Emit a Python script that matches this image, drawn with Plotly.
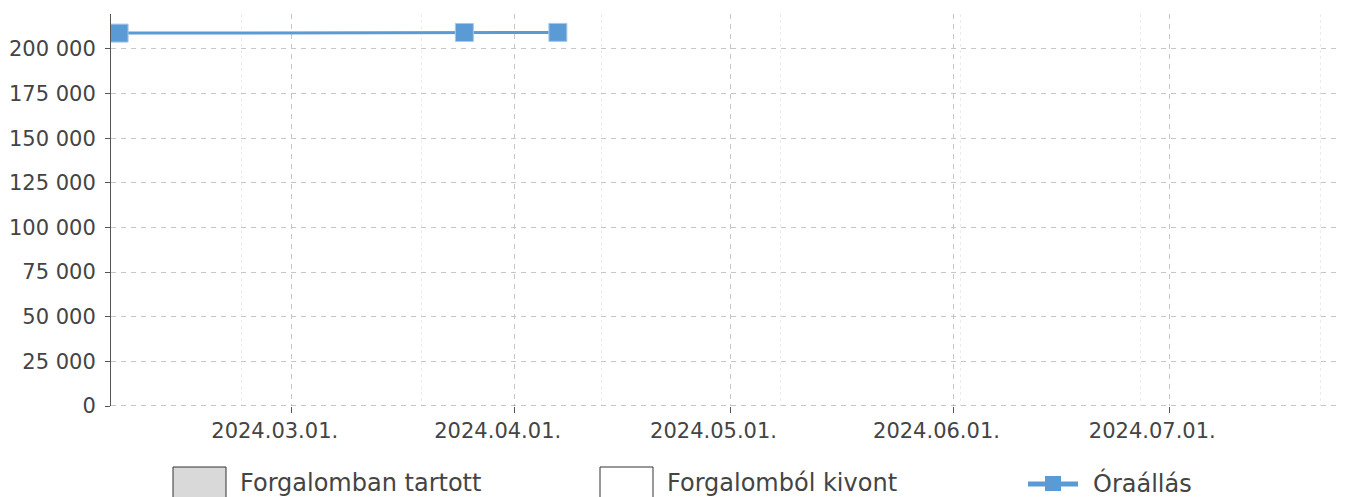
import plotly.graph_objects as go

# ---- data ----
dates = ["2024-02-06", "2024-03-25", "2024-04-07"]
odometer = [208900, 209250, 209300]
series_name = "Óraállás"
legend_labels = ["Forgalomban tartott", "Forgalomból kivont", "Óraállás"]
x_range = ["2024-02-04 21:00", "2024-07-24 21:00"]
y_range = [0, 219600]

LINE_COLOR = "#5b9bd5"
TEXT_COLOR = "#444444"
GRID_COLOR = "#c6c6c6"
FONT = "DejaVu Sans"

fig = go.Figure()
fig.add_trace(go.Scatter(
    x=dates, y=odometer, name=series_name, mode="lines+markers",
    line=dict(color=LINE_COLOR, width=3),
    marker=dict(symbol="square", size=18, color=LINE_COLOR,
                line=dict(color="#a8c8ea", width=1)),
    showlegend=False,
))

# page has an 8px body margin; figure sized to fit the window
OFF = 8
W, H = 1340, 489
L, R, T, B = 103, 7, 6, 91
pw, ph = W - L - R, H - T - B

def px(xp):
    return (xp - OFF - L) / pw

def py(yp):
    return (H - B - (yp - OFF)) / ph

shapes = []
annotations = []
# bottom dashed baseline
shapes.append(dict(type="line", xref="paper", yref="y", x0=0, x1=1, y0=0, y1=0,
                   line=dict(color="#8a8a8a", width=1, dash="5px,5px"), layer="above"))

# custom legend
box_fills = ["#d9d9d9", "#ffffff"]
box_lefts = [173, 600]
for lab, fill, bx in zip(legend_labels[:2], box_fills, box_lefts):
    shapes.append(dict(type="rect", xref="paper", yref="paper",
                       x0=px(bx), x1=px(bx + 53), y0=py(467), y1=py(505),
                       fillcolor=fill, line=dict(color="#333333", width=1)))
    annotations.append(dict(text=lab, xref="paper", yref="paper",
                            x=px(bx + 65), y=py(483.5), xanchor="left", yanchor="middle",
                            showarrow=False, font=dict(size=24, color=TEXT_COLOR, family=FONT)))
# line legend
shapes.append(dict(type="line", xref="paper", yref="paper",
                   x0=px(1028), x1=px(1078), y0=py(484), y1=py(484),
                   line=dict(color=LINE_COLOR, width=5)))
shapes.append(dict(type="rect", xref="paper", yref="paper",
                   x0=px(1045), x1=px(1061), y0=py(476), y1=py(491),
                   fillcolor=LINE_COLOR, line=dict(width=0)))
annotations.append(dict(text=legend_labels[2], xref="paper", yref="paper",
                        x=px(1091), y=py(483.5), xanchor="left", yanchor="middle",
                        showarrow=False, font=dict(size=24, color=TEXT_COLOR, family=FONT)))

fig.update_layout(
    width=W, height=H,
    margin=dict(l=L, r=R, t=T, b=B, pad=0),
    paper_bgcolor="white", plot_bgcolor="white",
    separators=", ",
    font=dict(family=FONT, size=21, color=TEXT_COLOR),
    showlegend=False,
    shapes=shapes, annotations=annotations,
    xaxis=dict(
        type="date", range=x_range, automargin=False,
        dtick="M1", tick0="2024-01-01", tickformat="%Y.%m.%d.",
        showgrid=True, gridcolor=GRID_COLOR, griddash="5px,5px", gridwidth=1,
        ticks="outside", ticklen=6, tickcolor="#555555",
        ticklabelshift=-17,
        showline=False, zeroline=False,
        tickfont=dict(size=21, color=TEXT_COLOR, family=FONT),
        minor=dict(dtick=25 * 86400000, tick0="2024-02-23",
                   showgrid=True, gridcolor="#ececec", griddash="dot", gridwidth=1),
    ),
    yaxis=dict(
        range=y_range, dtick=25000, tick0=0, tickformat=",d", automargin=False,
        showgrid=True, gridcolor=GRID_COLOR, griddash="5px,5px", gridwidth=1,
        ticks="outside", ticklen=5, tickcolor="#555555",
        ticklabelstandoff=5,
        showline=True, linecolor="#555555", linewidth=1,
        zeroline=False,
        tickfont=dict(size=21, color=TEXT_COLOR, family=FONT),
    ),
)

fig.write_html("out.html")
